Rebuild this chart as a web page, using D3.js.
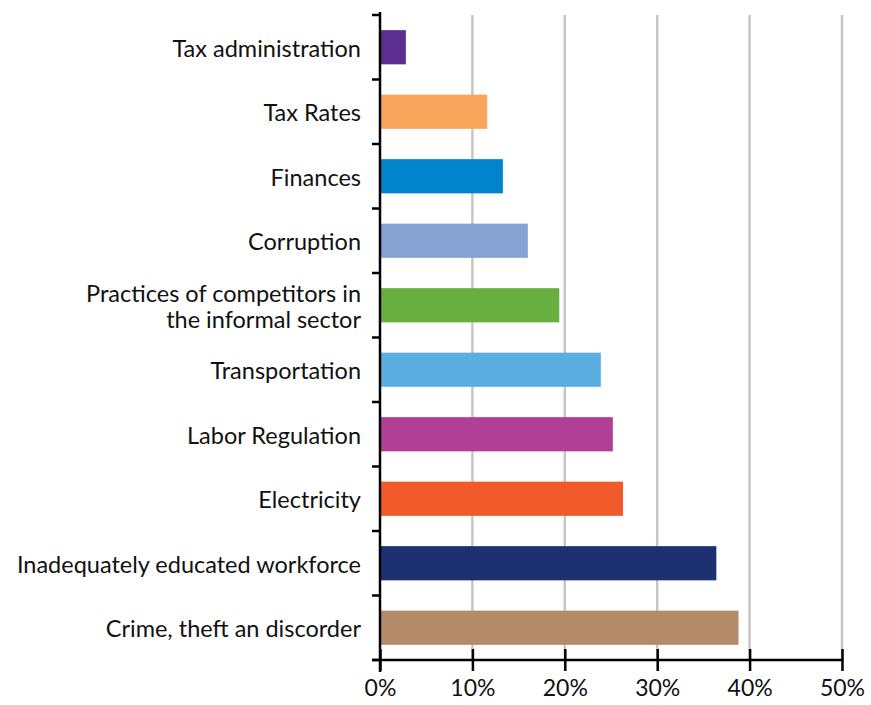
<!DOCTYPE html>
<html>
<head>
<meta charset="utf-8">
<script src="https://cdn.jsdelivr.net/npm/d3@7"></script>
<style>
  body { margin: 0; background: #fff; }
  svg { display: block; font-family: "Lato", "DejaVu Sans", sans-serif; }
</style>
</head>
<body>
<svg id="chart" width="871" height="705"></svg>
<script>
// Obstacles to doing business (share of firms)
const categories = [
  "Tax administration",
  "Tax Rates",
  "Finances",
  "Corruption",
  "Practices of competitors in|the informal sector",
  "Transportation",
  "Labor Regulation",
  "Electricity",
  "Inadequately educated workforce",
  "Crime, theft an discorder"
];
const values = [2.8, 11.6, 13.3, 16.0, 19.4, 23.9, 25.2, 26.3, 36.4, 38.8];
const colors = ["#5c2e91", "#f9a55b", "#0085cc", "#85a2d3", "#68ae41",
                "#5aafe0", "#b03f95", "#f15a2b", "#1d3072", "#b38b69"];
const xTicks = [0, 10, 20, 30, 40, 50];

const svg = d3.select("#chart");
const margin = { left: 380, top: 15, right: 29, bottom: 45 };
const width = 871, height = 705;

const x = d3.scaleLinear().domain([0, 50]).range([margin.left, width - margin.right]);
const y = d3.scaleBand().domain(categories).range([margin.top, height - margin.bottom]).paddingInner(0.47).paddingOuter(0.235);

// vertical gridlines
svg.append("g")
  .selectAll("line")
  .data(xTicks.slice(1))
  .join("line")
  .attr("x1", d => x(d)).attr("x2", d => x(d))
  .attr("y1", margin.top).attr("y2", height - margin.bottom)
  .attr("stroke", "#c6c6c6").attr("stroke-width", 2.5);

// bars
svg.append("g")
  .selectAll("rect")
  .data(categories)
  .join("rect")
  .attr("x", x(0))
  .attr("y", d => y(d))
  .attr("width", (d, i) => x(values[i]) - x(0))
  .attr("height", y.bandwidth())
  .attr("fill", (d, i) => colors[i]);

// x axis
const xAxis = d3.axisBottom(x).tickValues(xTicks).tickFormat(d => d + "%").tickSize(11).tickPadding(9);
const gx = svg.append("g")
  .attr("transform", `translate(0,${height - margin.bottom})`)
  .call(xAxis);
gx.select(".domain").attr("d", `M${x(0) - 8},0H${x(50)}`).attr("stroke", "#000").attr("stroke-width", 2.5);
gx.selectAll(".tick line").attr("y1", -11).attr("stroke", "#000").attr("stroke-width", 2.5);
gx.selectAll(".tick text").attr("font-size", 23).attr("fill", "#111").attr("font-family", "Lato, sans-serif");

// y axis: ticks at band boundaries
const boundaries = d3.range(categories.length + 1).map(i => margin.top + i * y.step());
const gy = svg.append("g");
gy.append("line")
  .attr("x1", x(0)).attr("x2", x(0))
  .attr("y1", margin.top - 3).attr("y2", height - margin.bottom + 12)
  .attr("stroke", "#000").attr("stroke-width", 2.5);
gy.selectAll("line.tk")
  .data(boundaries)
  .join("line")
  .attr("class", "tk")
  .attr("x1", x(0) - 8).attr("x2", x(0))
  .attr("y1", d => d).attr("y2", d => d)
  .attr("stroke", "#000").attr("stroke-width", 2.5);

// category labels
const labels = svg.append("g")
  .selectAll("text")
  .data(categories)
  .join("text")
  .attr("text-anchor", "end")
  .attr("font-size", 23.5)
  .attr("fill", "#111")
  .attr("x", x(0) - 19)
  .attr("y", d => y(d) + y.bandwidth() / 2);
labels.each(function(d) {
  const lines = d.split("|");
  const t = d3.select(this);
  lines.forEach((ln, k) => {
    t.append("tspan")
      .attr("x", x(0) - 19)
      .attr("dy", k === 0 ? `${0.4 - (lines.length - 1) * 0.55}em` : "1.1em")
      .text(ln);
  });
});
</script>
</body>
</html>
